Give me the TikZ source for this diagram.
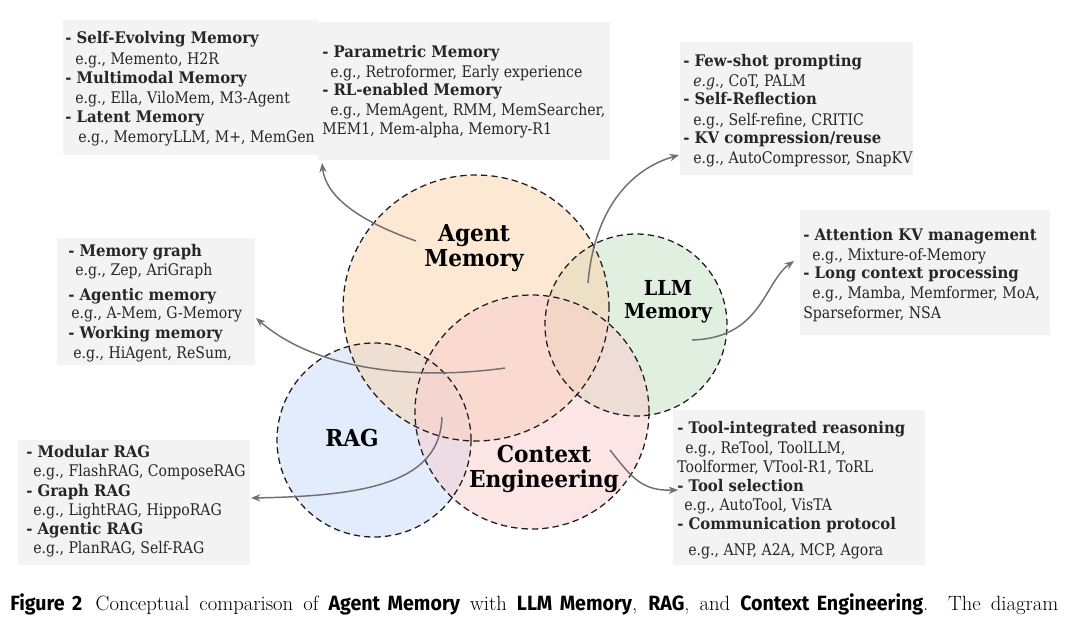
\documentclass[tikz,border=0pt]{standalone}
\usepackage{fontspec}
\newfontfamily\gfont[FakeStretch=0.88,BoldFeatures={FakeStretch=0.93}]{DejaVu Serif}
\newfontfamily\capsf[FakeStretch=0.95]{Fira Sans}
\usetikzlibrary{arrows.meta}
\definecolor{boxgray}{RGB}{243,243,243}
\definecolor{txt}{RGB}{38,38,38}
\definecolor{arrgray}{RGB}{112,112,112}
\definecolor{cAgent}{RGB}{249,210,168}
\definecolor{cLLM}{RGB}{196,224,196}
\definecolor{cRAG}{RGB}{200,218,250}
\definecolor{cCtx}{RGB}{250,204,204}
\definecolor{setline}{RGB}{30,30,30}
\begin{document}
\begin{tikzpicture}[x=0.75pt,y=-0.75pt,
  infobox/.style={fill=boxgray},
  hd/.style={anchor=base west,inner sep=0pt,text=txt,font=\gfont\bfseries\fontsize{12}{14}\selectfont},
  eg/.style={anchor=base west,inner sep=0pt,text=txt,font=\gfont\fontsize{12}{14}\selectfont},
  setfill/.style={fill opacity=0.5},
  setedge/.style={draw=setline,line width=0.95pt,dash pattern=on 4.8pt off 3pt},
  setlabel/.style={inner sep=0pt,text=black,align=center,font=\gfont\bfseries\fontsize{17.5}{20}\selectfont},
  arr/.style={draw=arrgray,line width=1.1pt,-{Stealth[length=7pt,width=5.5pt]}}]
\useasboundingbox (0,0) rectangle (1080,618);

% boxes
\path[infobox] (63,20) rectangle (318,155);
\path[infobox] (318,22) rectangle (610,160);
\path[infobox] (680,42) rectangle (913,175);
\path[infobox] (800,210) rectangle (1050,335);
\path[infobox] (57,238) rectangle (255,365);
\path[infobox] (18,440) rectangle (250,565);
\path[infobox] (673,410) rectangle (925,565);

% circles
\fill[setfill,cLLM] (636,325) circle[radius=68.25pt];
\fill[setfill,cRAG] (374,440) circle[radius=72.75pt];
\fill[setfill,cAgent] (476,308) circle[radius=99.75pt];
\fill[setfill,cCtx] (532,412) circle[radius=87.75pt];
\draw[setedge] (476,308) circle[radius=99.75pt];
\draw[setedge] (636,325) circle[radius=68.25pt];
\draw[setedge] (374,440) circle[radius=72.75pt];
\draw[setedge] (532,412) circle[radius=87.75pt];

% set labels
\node[setlabel] (lagent) at (474,248) {Agent\\[-1pt]Memory};
\node[setlabel,font=\gfont\bfseries\fontsize{15.5}{17}\selectfont] (lllm) at (668,302) {LLM\\Memory};
\node[setlabel] (lrag) at (352,438) {RAG};
\node[setlabel] (lctx) at (544,469) {Context\\[-1pt]Engineering};

% arrows
\coordinate (a1s) at (416,241); \coordinate (a1e) at (322,163);
\coordinate (a2s) at (588,283); \coordinate (a2e) at (679,155);
\coordinate (a3s) at (692,340); \coordinate (a3e) at (794,261);
\coordinate (a4s) at (505,368); \coordinate (a4e) at (256,318);
\coordinate (a5s) at (442,417); \coordinate (a5e) at (251,498);
\coordinate (a6s) at (610,450); \coordinate (a6e) at (678,490);
\draw[arr] (a1s) .. controls (362,222) and (326,198) .. (a1e);
\draw[arr] (a2s) .. controls (594,212) and (628,170) .. (a2e);
\draw[arr] (a3s) .. controls (762,338) and (764,282) .. (a3e);
\draw[arr] (a4s) .. controls (420,380) and (318,372) .. (a4e);
\draw[arr] (a5s) .. controls (440,482) and (368,496) .. (a5e);
\draw[arr] (a6s) .. controls (632,478) and (642,491) .. (a6e);

% top-left
\node[hd] (t1) at (65,43) {- Self-Evolving Memory};
\node[eg] (t2) at (75,64) {e.g., Memento, H2R};
\node[hd] (t3) at (65,83) {- Multimodal Memory};
\node[eg] (t4) at (75,103) {e.g., Ella, ViloMem, M3-Agent};
\node[hd] (t5) at (65,122) {- Latent Memory};
\node[eg] (t6) at (78,142) {e.g., MemoryLLM, M+, MemGen};
% top-middle
\node[hd] (m1) at (322,57) {- Parametric Memory};
\node[eg] (m2) at (330,77) {e.g., Retroformer, Early experience};
\node[hd] (m3) at (322,95) {- RL-enabled Memory};
\node[eg] (m4) at (330,115) {e.g., MemAgent, RMM, MemSearcher,};
\node[eg] (m5) at (322,134) {MEM1, Mem-alpha, Memory-R1};
% top-right
\node[hd] (r1) at (683,66) {- Few-shot prompting};
\node[eg] (r2) at (693,86) {\itshape e.g.\upshape, CoT, PALM};
\node[hd] (r3) at (683,104) {- Self-Reflection};
\node[eg] (r4) at (693,125) {e.g., Self-refine, CRITIC};
\node[hd] (r5) at (683,143) {- KV compression/reuse};
\node[eg] (r6) at (693,163) {e.g., AutoCompressor, SnapKV};
% right-middle
\node[hd] (k1) at (803,240) {- Attention KV management};
\node[eg] (k2) at (812,260) {e.g., Mixture-of-Memory};
\node[hd] (k3) at (803,278) {- Long context processing};
\node[eg] (k4) at (812,298) {e.g., Mamba, Memformer, MoA,};
\node[eg] (k5) at (803,318) {Sparseformer, NSA};
% left-middle
\node[hd] (l1) at (68,256) {- Memory graph};
\node[eg] (l2) at (75,275) {e.g., Zep, AriGraph};
\node[hd] (l3) at (68,300) {- Agentic memory};
\node[eg] (l4) at (71,318) {e.g., A-Mem, G-Memory};
\node[hd] (l5) at (68,338) {- Working memory};
\node[eg] (l6) at (73,358) {e.g., HiAgent, ReSum,};
% bottom-left
\node[hd] (b1) at (26,457) {- Modular RAG};
\node[eg] (b2) at (33,476) {e.g., FlashRAG, ComposeRAG};
\node[hd] (b3) at (26,496) {- Graph RAG};
\node[eg] (b4) at (33,515) {e.g., LightRAG, HippoRAG};
\node[hd] (b5) at (26,534) {- Agentic RAG};
\node[eg] (b6) at (33,553) {e.g., PlanRAG, Self-RAG};
% bottom-right
\node[hd] (c1) at (677,433) {- Tool-integrated reasoning};
\node[eg] (c2) at (685,453) {e.g., ReTool, ToolLLM,};
\node[eg] (c3) at (677,472) {Toolformer, VTool-R1, ToRL};
\node[hd] (c4) at (677,491) {- Tool selection};
\node[eg] (c5) at (684,510) {e.g., AutoTool, VisTA};
\node[hd] (c6) at (677,529) {- Communication protocol};
\node[eg] (c7) at (688,555) {e.g., ANP, A2A, MCP, Agora};

% caption
\node[anchor=base west,inner sep=0pt,font=\fontsize{15.5}{17}\selectfont] (cap) at (10,610)
 {\hbox to 786pt{{\capsf\bfseries Figure 2}\hskip 10pt Conceptual comparison of {\capsf\bfseries Agent Memory} with {\capsf\bfseries LLM Memory}, {\capsf\bfseries RAG}, and {\capsf\bfseries Context Engineering}. The diagram}};
\end{tikzpicture}
\end{document}
